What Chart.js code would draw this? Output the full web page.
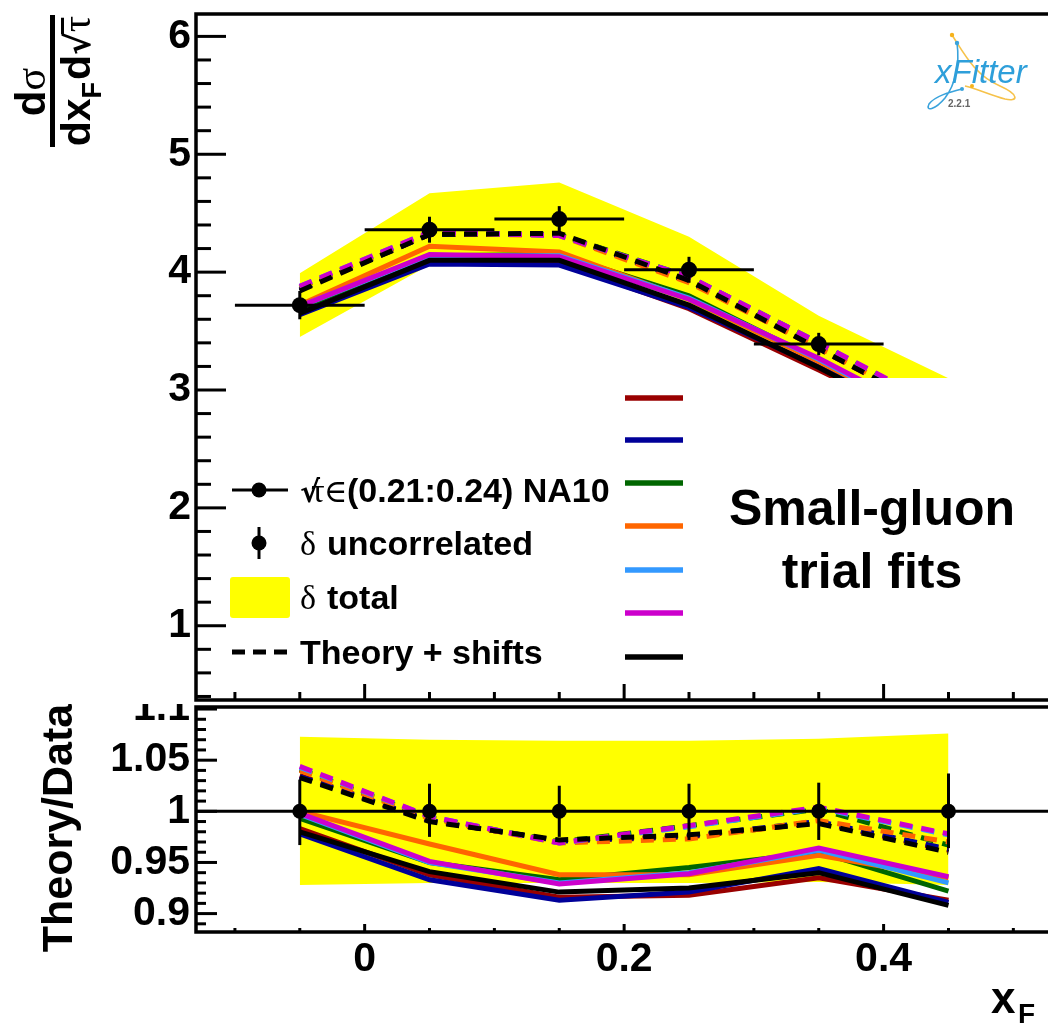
<!DOCTYPE html>
<html><head><meta charset="utf-8">
<script src="https://cdn.jsdelivr.net/npm/chart.js@4/dist/chart.umd.min.js"></script>
<style>
html,body{margin:0;padding:0;background:#fff;overflow:hidden;width:1048px;height:1025px;position:relative;}
#wrapR{position:absolute;left:0;top:690px;width:1200px;height:335px;}
#wrapM{position:absolute;left:0;top:0;width:1200px;height:704px;}
canvas{display:block;}
</style></head><body>
<div id="wrapR"><canvas id="ratio" width="1200" height="335"></canvas></div>
<div id="wrapM"><canvas id="main" width="1200" height="704"></canvas></div>
<script>
// ---------------- data ----------------
const xCenters = [-0.05, 0.05, 0.15, 0.25, 0.35, 0.45];
const binLow   = [-0.10, 0.00, 0.10, 0.20, 0.30, 0.40];
const binHigh  = [ 0.00, 0.10, 0.20, 0.30, 0.40, 0.50];

const dataValues    = [3.72, 4.36, 4.45, 4.02, 3.39, 2.88];
const dataUncErr    = [0.12, 0.11, 0.11, 0.11, 0.095, 0.105];
const totalBandHigh = [3.99, 4.67, 4.76, 4.30, 3.63, 3.10];
const totalBandLow  = [3.45, 4.06, 4.14, 3.74, 3.16, 2.67];

const ratioData      = [1, 1, 1, 1, 1, 1];
const ratioUncHigh   = [1.031, 1.027, 1.025, 1.027, 1.028, 1.037];
const ratioUncLow    = [0.967, 0.975, 0.975, 0.972, 0.972, 0.964];
const ratioBandHigh  = [1.073, 1.070, 1.069, 1.069, 1.071, 1.076];
const ratioBandLow   = [0.928, 0.930, 0.930, 0.930, 0.931, 0.928];

const fitColors = ['#990000', '#000099', '#006600', '#ff6600', '#3399ff', '#cc00cc', '#000000'];

// theory (solid) in main panel
const theoryFit1 = [3.66, 4.09, 4.08, 3.69, 3.17, 2.63];
const theoryFit2 = [3.64, 4.07, 4.06, 3.70, 3.20, 2.62];
const theoryFit3 = [3.69, 4.14, 4.15, 3.80, 3.25, 2.66];
const theoryFit4 = [3.72, 4.22, 4.17, 3.77, 3.24, 2.69];
const theoryFit5 = [3.71, 4.14, 4.14, 3.78, 3.26, 2.68];
const theoryFit6 = [3.71, 4.15, 4.13, 3.77, 3.27, 2.70];
const theoryFit7 = [3.65, 4.10, 4.10, 3.72, 3.19, 2.62];
// theory + shifts (dashed) in main panel
const shiftedFit1 = [3.85, 4.32, 4.32, 3.92, 3.35, 2.77];
const shiftedFit2 = [3.85, 4.32, 4.32, 3.92, 3.36, 2.77];
const shiftedFit3 = [3.87, 4.33, 4.32, 3.96, 3.40, 2.79];
const shiftedFit4 = [3.87, 4.33, 4.31, 3.91, 3.36, 2.79];
const shiftedFit5 = [3.88, 4.34, 4.31, 3.96, 3.40, 2.81];
const shiftedFit6 = [3.88, 4.34, 4.31, 3.96, 3.40, 2.82];
const shiftedFit7 = [3.84, 4.32, 4.33, 3.93, 3.35, 2.77];
// ratio panel, theory / data
const ratioFit1 = [0.983, 0.938, 0.916, 0.918, 0.935, 0.913];
const ratioFit2 = [0.978, 0.933, 0.913, 0.921, 0.944, 0.911];
const ratioFit3 = [0.993, 0.950, 0.933, 0.945, 0.960, 0.922];
const ratioFit4 = [1.000, 0.968, 0.938, 0.938, 0.957, 0.935];
const ratioFit5 = [0.997, 0.950, 0.930, 0.940, 0.962, 0.930];
const ratioFit6 = [0.998, 0.951, 0.929, 0.939, 0.964, 0.936];
const ratioFit7 = [0.980, 0.941, 0.921, 0.925, 0.940, 0.908];
// ratio panel, (theory + shifts) / data
const ratioShiftedFit1 = [1.035, 0.991, 0.971, 0.975, 0.989, 0.962];
const ratioShiftedFit2 = [1.034, 0.991, 0.971, 0.976, 0.990, 0.963];
const ratioShiftedFit3 = [1.041, 0.994, 0.970, 0.986, 1.002, 0.967];
const ratioShiftedFit4 = [1.040, 0.993, 0.969, 0.973, 0.991, 0.970];
const ratioShiftedFit5 = [1.043, 0.995, 0.969, 0.985, 1.003, 0.977];
const ratioShiftedFit6 = [1.044, 0.995, 0.969, 0.986, 1.004, 0.978];
const ratioShiftedFit7 = [1.033, 0.990, 0.972, 0.977, 0.988, 0.960];

const mainYTickValues  = [1, 2, 3, 4, 5, 6];
const mainYTickLabels  = ['1', '2', '3', '4', '5', '6'];
const ratioYTickValues = [0.9, 0.95, 1, 1.05, 1.1];
const ratioYTickLabels = ['0.9', '0.95', '1', '1.05', '1.1'];
const xTickValues = [0, 0.2, 0.4];
const xTickLabels = ['0', '0.2', '0.4'];

const legendData   = '(0.21:0.24) NA10';
const legendUnc    = 'uncorrelated';
const legendTotal  = 'total';
const legendTheory = 'Theory + shifts';
const annotLine1 = 'Small-gluon';
const annotLine2 = 'trial fits';

// ---------------- helpers ----------------
const SANS = '"Liberation Sans", Arial, Helvetica, sans-serif';
const SERIF = '"Liberation Serif", "DejaVu Serif", serif';
const pts = ys => xCenters.map((x, i) => ({x: x, y: ys[i]}));

function buildSets(lo, hi, solids, dashed) {
  const s = [];
  s.push({data: pts(lo), borderWidth: 0, borderColor: 'rgba(0,0,0,0)', pointRadius: 0, fill: false});
  s.push({data: pts(hi), borderWidth: 0, borderColor: 'rgba(0,0,0,0)', pointRadius: 0, fill: '-1', backgroundColor: '#ffff00'});
  solids.forEach((a, i) => s.push({data: pts(a), borderColor: fitColors[i], borderWidth: 5, pointRadius: 0, fill: false, tension: 0}));
  dashed.forEach((a, i) => s.push({data: pts(a), borderColor: fitColors[i], borderWidth: 5, borderDash: [13, 9], pointRadius: 0, fill: false, tension: 0}));
  const n = s.length;
  s.forEach((d, i) => d.order = n - i);
  return s;
}

function drawAxisTicks(ctx, a, xs, ys, cfg) {
  ctx.save();
  ctx.strokeStyle = '#000';
  ctx.lineWidth = 3;
  const yStepN = Math.round(cfg.yMajor / cfg.yMinor);
  for (let i = Math.ceil(ys.min / cfg.yMinor - 1e-9); i <= Math.floor(ys.max / cfg.yMinor + 1e-9); i++) {
    const v = i * cfg.yMinor;
    const len = (i % yStepN === 0) ? cfg.yMajLen : cfg.yMinLen;
    const py = ys.getPixelForValue(v);
    ctx.beginPath(); ctx.moveTo(a.left, py); ctx.lineTo(a.left + len, py); ctx.stroke();
  }
  const xStepN = Math.round(cfg.xMajor / cfg.xMinor);
  for (let i = Math.ceil(xs.min / cfg.xMinor - 1e-9); i <= Math.floor(xs.max / cfg.xMinor + 1e-9); i++) {
    const v = i * cfg.xMinor;
    const len = (i % xStepN === 0) ? cfg.xMajLen : cfg.xMinLen;
    const px = xs.getPixelForValue(v);
    ctx.beginPath(); ctx.moveTo(px, a.bottom); ctx.lineTo(px, a.bottom - len); ctx.stroke();
  }
  ctx.lineWidth = 3.5;
  ctx.strokeRect(a.left, a.top, a.right - a.left, a.bottom - a.top);
  ctx.restore();
}

function drawPoints(ctx, a, xs, ys, vals, hiArr, loArr, withX, r) {
  ctx.save();
  ctx.beginPath(); ctx.rect(a.left, a.top, a.right - a.left, a.bottom - a.top); ctx.clip();
  ctx.strokeStyle = '#000'; ctx.fillStyle = '#000'; ctx.lineWidth = 3;
  for (let i = 0; i < vals.length; i++) {
    const px = xs.getPixelForValue(xCenters[i]);
    const py = ys.getPixelForValue(vals[i]);
    if (withX) {
      ctx.beginPath();
      ctx.moveTo(xs.getPixelForValue(binLow[i]), py);
      ctx.lineTo(xs.getPixelForValue(binHigh[i]), py);
      ctx.stroke();
    }
    ctx.beginPath();
    ctx.moveTo(px, ys.getPixelForValue(hiArr[i]));
    ctx.lineTo(px, ys.getPixelForValue(loArr[i]));
    ctx.stroke();
    ctx.beginPath(); ctx.arc(px, py, r, 0, Math.PI * 2); ctx.fill();
  }
  ctx.restore();
}

function rotText(ctx, parts, cx, cy, baseX) {
  ctx.save();
  ctx.translate(baseX, cy);
  ctx.rotate(-Math.PI / 2);
  ctx.textBaseline = 'alphabetic';
  ctx.textAlign = 'left';
  let total = 0;
  parts.forEach(p => { ctx.font = p.font; p.w = ctx.measureText(p.t).width + (p.gap || 0); total += p.w; });
  let x = -total / 2;
  parts.forEach(p => {
    ctx.font = p.font;
    ctx.fillText(p.t, x, p.dy || 0);
    if (p.over) { ctx.fillRect(x - 2, p.over, p.w, 3); }
    x += p.w;
  });
  ctx.restore();
}

function drawLogo(ctx) {
  ctx.save();
  ctx.lineWidth = 1.6;
  ctx.strokeStyle = '#f6c24a';
  ctx.beginPath();
  ctx.moveTo(952, 35);
  ctx.bezierCurveTo(965, 55, 975, 75, 1000, 86);
  ctx.bezierCurveTo(1020, 95, 1018, 102, 1005, 99);
  ctx.bezierCurveTo(990, 95, 975, 88, 965, 86);
  ctx.stroke();
  ctx.fillStyle = '#f6b21a';
  ctx.beginPath(); ctx.arc(952, 35, 2.2, 0, 7); ctx.fill();
  ctx.beginPath(); ctx.arc(972, 86, 2, 0, 7); ctx.fill();
  ctx.strokeStyle = '#3aa3dc';
  ctx.beginPath();
  ctx.moveTo(957, 43);
  ctx.bezierCurveTo(960, 65, 955, 85, 945, 98);
  ctx.bezierCurveTo(935, 110, 925, 112, 929, 104);
  ctx.bezierCurveTo(935, 96, 950, 92, 962, 89);
  ctx.stroke();
  ctx.fillStyle = '#3aa3dc';
  ctx.beginPath(); ctx.arc(957, 43, 2.2, 0, 7); ctx.fill();
  ctx.beginPath(); ctx.arc(962, 89, 2, 0, 7); ctx.fill();
  ctx.font = 'italic 33px ' + SANS;
  ctx.fillStyle = '#2e9fda';
  ctx.textBaseline = 'alphabetic';
  ctx.fillText('xFitter', 935, 83);
  ctx.font = 'bold 10px ' + SANS;
  ctx.fillStyle = '#666';
  ctx.fillText('2.2.1', 948, 107);
  ctx.restore();
}

function drawLegend(ctx) {
  ctx.save();
  ctx.fillStyle = '#000'; ctx.strokeStyle = '#000';
  ctx.textBaseline = 'alphabetic';
  const bold = 'bold 34px ' + SANS;
  const serif = '34px ' + SERIF;
  ctx.lineWidth = 3;
  ctx.beginPath(); ctx.moveTo(232, 490); ctx.lineTo(288, 490); ctx.stroke();
  ctx.beginPath(); ctx.arc(259, 490, 7.5, 0, 7); ctx.fill();
  ctx.font = 'bold 30px "DejaVu Sans", sans-serif';
  ctx.fillText('\u221A', 300, 502);
  ctx.font = serif; ctx.fillText('\u03C4', 311, 502);
  ctx.font = '32px "DejaVu Serif", serif'; ctx.fillText('\u2208', 324, 502);
  ctx.font = bold; ctx.fillText(legendData, 347, 502);
  ctx.beginPath(); ctx.moveTo(259, 527); ctx.lineTo(259, 559); ctx.stroke();
  ctx.beginPath(); ctx.arc(259, 543, 7.5, 0, 7); ctx.fill();
  ctx.font = serif; ctx.fillText('\u03B4', 300, 555);
  ctx.font = bold; ctx.fillText(legendUnc, 327, 555);
  ctx.fillStyle = '#ffff00';
  ctx.beginPath(); ctx.roundRect(230, 577, 60, 41, 3); ctx.fill();
  ctx.fillStyle = '#000';
  ctx.font = serif; ctx.fillText('\u03B4', 300, 609);
  ctx.font = bold; ctx.fillText(legendTotal, 327, 609);
  ctx.lineWidth = 5; ctx.setLineDash([13, 8]);
  ctx.beginPath(); ctx.moveTo(232, 652); ctx.lineTo(290, 652); ctx.stroke();
  ctx.setLineDash([]);
  ctx.font = bold; ctx.fillText(legendTheory, 300, 664);
  ctx.fillStyle = '#fff';
  ctx.fillRect(614, 378, 600, 301);
  const ly = [398, 440, 483, 526, 570, 613, 657];
  ctx.lineWidth = 5.5;
  fitColors.forEach((c, i) => {
    ctx.strokeStyle = c;
    ctx.beginPath(); ctx.moveTo(625, ly[i]); ctx.lineTo(683, ly[i]); ctx.stroke();
  });
  ctx.fillStyle = '#000';
  ctx.textAlign = 'center';
  ctx.font = 'bold 50px ' + SANS;
  ctx.fillText(annotLine1, 872, 525);
  ctx.fillText(annotLine2, 872, 588);
  ctx.restore();
}

// ---------------- main panel ----------------
const mainPlugin = {
  id: 'mainDeco',
  beforeDraw(chart) {
    const c = chart.ctx; c.save(); c.fillStyle = '#fff'; c.fillRect(0, 0, chart.width, chart.height); c.restore();
  },
  afterDatasetsDraw(chart) {
    const {ctx, chartArea: a, scales: {x, y}} = chart;
    const hi = dataValues.map((v, i) => v + dataUncErr[i]);
    const lo = dataValues.map((v, i) => v - dataUncErr[i]);
    drawPoints(ctx, a, x, y, dataValues, hi, lo, true, 8);
    drawAxisTicks(ctx, a, x, y, {yMajor: 1, yMinor: 0.2, yMajLen: 30, yMinLen: 15, xMajor: 0.2, xMinor: 0.05, xMajLen: 16, xMinLen: 8});
  },
  afterDraw(chart) {
    const ctx = chart.ctx;
    drawLegend(ctx);
    drawLogo(ctx);
    ctx.save(); ctx.fillStyle = '#000'; ctx.fillRect(50, 15, 5, 132); ctx.restore();
    rotText(ctx, [
      {t: 'd', font: 'bold 42px ' + SANS},
      {t: '\u03C3', font: '42px ' + SERIF}
    ], 0, 92, 45);
    rotText(ctx, [
      {t: 'dx', font: 'bold 41px ' + SANS},
      {t: 'F', font: 'bold 27px ' + SANS, dy: 11, gap: 2},
      {t: 'd', font: 'bold 41px ' + SANS},
      {t: '\u221A', font: 'bold 34px "DejaVu Sans", sans-serif'},
      {t: '\u03C4', font: '41px ' + SERIF, over: -29}
    ], 0, 81, 90);
  }
};

new Chart(document.getElementById('main'), {
  type: 'line',
  data: {datasets: buildSets(totalBandLow, totalBandHigh,
    [theoryFit1, theoryFit2, theoryFit3, theoryFit4, theoryFit5, theoryFit6, theoryFit7],
    [shiftedFit1, shiftedFit2, shiftedFit3, shiftedFit4, shiftedFit5, shiftedFit6, shiftedFit7])},
  options: {
    responsive: false, animation: false, devicePixelRatio: 1,
    layout: {autoPadding: false, padding: {left: 0, right: 18, top: 14, bottom: 0}},
    plugins: {legend: {display: false}, tooltip: {enabled: false}},
    elements: {line: {tension: 0}},
    scales: {
      x: {type: 'linear', min: -0.13, max: 0.63,
          grid: {display: false, drawTicks: false}, border: {display: false},
          ticks: {display: false},
          afterFit(s) { s.height = 4; s.paddingLeft = 0; s.paddingRight = 0; }},
      y: {type: 'linear', min: 0.37, max: 6.19,
          grid: {display: false, drawTicks: false}, border: {display: false},
          ticks: {color: '#000', padding: 5, font: {family: SANS, size: 41, weight: 'bold'},
                  callback: (v) => { const k = mainYTickValues.indexOf(v); return k >= 0 ? mainYTickLabels[k] : ''; }},
          afterBuildTicks(s) { s.ticks = mainYTickValues.map(v => ({value: v})); },
          afterFit(s) { s.width = 196; s.paddingTop = 0; s.paddingBottom = 0; }}
    }
  },
  plugins: [mainPlugin]
});

// ---------------- ratio panel ----------------
const ratioPlugin = {
  id: 'ratioDeco',
  beforeDraw(chart) {
    const c = chart.ctx; c.save(); c.fillStyle = '#fff'; c.fillRect(0, 0, chart.width, chart.height); c.restore();
  },
  afterDatasetsDraw(chart) {
    const {ctx, chartArea: a, scales: {x, y}} = chart;
    ctx.save();
    ctx.strokeStyle = '#000'; ctx.lineWidth = 3;
    const p1 = y.getPixelForValue(ratioData[0]);
    ctx.beginPath(); ctx.moveTo(a.left, p1); ctx.lineTo(a.right, p1); ctx.stroke();
    ctx.restore();
    drawPoints(ctx, a, x, y, ratioData, ratioUncHigh, ratioUncLow, false, 7.5);
    drawAxisTicks(ctx, a, x, y, {yMajor: 0.05, yMinor: 0.01, yMajLen: 21, yMinLen: 10, xMajor: 0.2, xMinor: 0.05, xMajLen: 8, xMinLen: 4});
  },
  afterDraw(chart) {
    const ctx = chart.ctx;
    rotText(ctx, [{t: 'Theory/Data', font: 'bold 43px ' + SANS}], 0, 138, 72);
    ctx.save();
    ctx.fillStyle = '#000'; ctx.textBaseline = 'alphabetic';
    ctx.font = 'bold 44px ' + SANS;
    ctx.fillText('x', 991, 1013 - 690);
    ctx.font = 'bold 28px ' + SANS;
    ctx.fillText('F', 1018, 1023 - 690);
    ctx.restore();
  }
};

new Chart(document.getElementById('ratio'), {
  type: 'line',
  data: {datasets: buildSets(ratioBandLow, ratioBandHigh,
    [ratioFit1, ratioFit2, ratioFit3, ratioFit4, ratioFit5, ratioFit6, ratioFit7],
    [ratioShiftedFit1, ratioShiftedFit2, ratioShiftedFit3, ratioShiftedFit4, ratioShiftedFit5, ratioShiftedFit6, ratioShiftedFit7])},
  options: {
    responsive: false, animation: false, devicePixelRatio: 1,
    layout: {autoPadding: false, padding: {left: 0, right: 18, top: 17, bottom: 0}},
    plugins: {legend: {display: false}, tooltip: {enabled: false}},
    scales: {
      x: {type: 'linear', min: -0.13, max: 0.63,
          grid: {display: false, drawTicks: false}, border: {display: false},
          ticks: {color: '#000', padding: 3, maxRotation: 0, autoSkip: false, font: {family: SANS, size: 41, weight: 'bold'},
                  callback: (v) => { const k = xTickValues.findIndex(t => Math.abs(t - v) < 1e-9); return k >= 0 ? xTickLabels[k] : ''; }},
          afterBuildTicks(s) { s.ticks = xTickValues.map(v => ({value: v})); },
          afterFit(s) { s.height = 93; s.paddingLeft = 0; s.paddingRight = 0; }},
      y: {type: 'linear', min: 0.882, max: 1.102,
          grid: {display: false, drawTicks: false}, border: {display: false},
          ticks: {color: '#000', padding: 6, autoSkip: false, font: {family: SANS, size: 41, weight: 'bold'},
                  callback: (v) => { const k = ratioYTickValues.findIndex(t => Math.abs(t - v) < 1e-9); return k >= 0 ? ratioYTickLabels[k] : ''; }},
          afterBuildTicks(s) { s.ticks = ratioYTickValues.map(v => ({value: v})); },
          afterFit(s) { s.width = 196; s.paddingTop = 0; s.paddingBottom = 0; }}
    }
  },
  plugins: [ratioPlugin]
});
</script>
</body></html>
